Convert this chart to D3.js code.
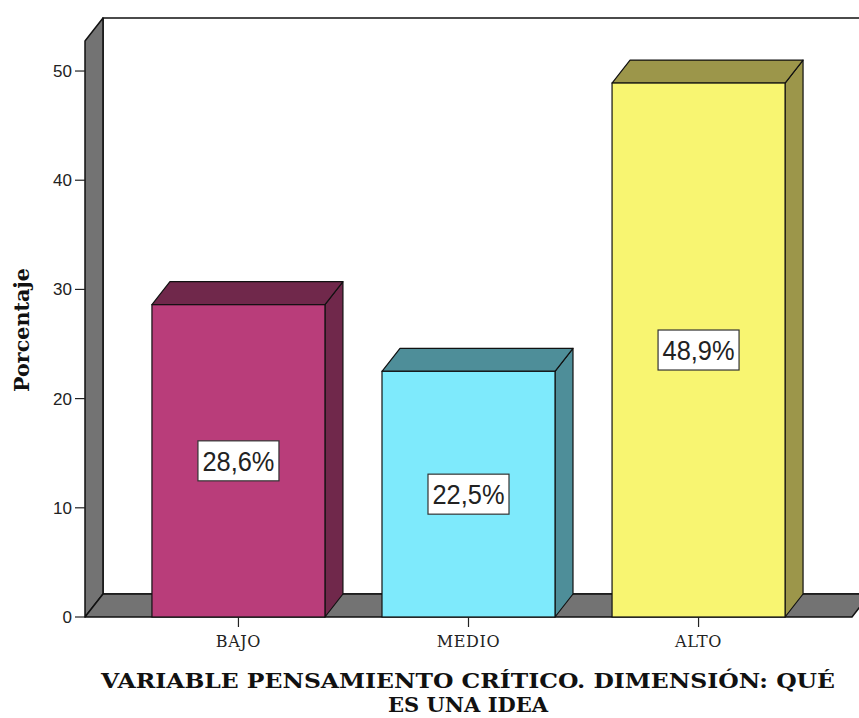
<!DOCTYPE html>
<html>
<head>
<meta charset="utf-8">
<script src="https://cdn.jsdelivr.net/npm/d3@7"></script>
<style>
  body { margin: 0; background: #fff; }
  svg { display: block; }
  .tick-y { font-family: "Liberation Sans", Arial, sans-serif; font-size: 17px; fill: #222; }
  .tick-x { font-family: "DejaVu Serif", serif; font-size: 16px; fill: #222; letter-spacing: 0.6px; }
  .title { font-family: "DejaVu Serif", serif; font-weight: bold; font-size: 20px; fill: #111; }
  .value { font-family: "Liberation Sans", Arial, sans-serif; font-size: 27px; fill: #222; }
</style>
</head>
<body>
<div id="chart"></div>
<script>
var categories = ["BAJO", "MEDIO", "ALTO"];
var values = [28.6, 22.5, 48.9];
var valueLabels = ["28,6%", "22,5%", "48,9%"];
var frontColors = ["#b93d7a", "#7eeafc", "#f8f571"];
var sideColors = ["#70284b", "#4e8e99", "#9c964a"];
var yTicks = [0, 10, 20, 30, 40, 50];

var width = 859, height = 718;
var depth = {dx: 18, dy: 23};

var svg = d3.select("#chart").append("svg")
    .attr("width", width)
    .attr("height", height);

var y = d3.scaleLinear()
    .domain([0, 52.75])
    .range([617, 41]);

var x = d3.scaleBand()
    .domain(categories)
    .range([85, 852])
    .paddingInner(0.248)
    .paddingOuter(0.291);

var x0 = x.range()[0], x1 = x.range()[1];
var yBase = y(0), yTop = y(y.domain()[1]);

function poly(pts) { return "M" + pts.map(function(p) { return p.join(","); }).join("L") + "Z"; }

// back wall
svg.append("path")
    .attr("d", poly([[x0 + depth.dx, yTop - depth.dy], [width + 20, yTop - depth.dy],
                     [width + 20, yBase - depth.dy], [x0 + depth.dx, yBase - depth.dy]]))
    .attr("fill", "#fff")
    .attr("stroke", "#111")
    .attr("stroke-width", 1.5);

// left wall
svg.append("path")
    .attr("d", poly([[x0, yTop], [x0 + depth.dx, yTop - depth.dy],
                     [x0 + depth.dx, yBase - depth.dy], [x0, yBase]]))
    .attr("fill", "#737373")
    .attr("stroke", "#111")
    .attr("stroke-width", 1.5)
    .attr("stroke-linejoin", "round");

// floor
svg.append("path")
    .attr("d", poly([[x0, yBase], [x0 + depth.dx, yBase - depth.dy],
                     [x1 + depth.dx, yBase - depth.dy], [x1, yBase]]))
    .attr("fill", "#737373")
    .attr("stroke", "#111")
    .attr("stroke-width", 1.5)
    .attr("stroke-linejoin", "round");

// bars
var bars = svg.selectAll(".bar")
    .data(categories)
    .enter().append("g")
    .attr("class", "bar");

bars.append("path")
    .attr("d", function(d, i) {
        var bx = x(d) + x.bandwidth(), t = y(values[i]);
        return poly([[bx, t], [bx + depth.dx, t - depth.dy], [bx + depth.dx, yBase - depth.dy], [bx, yBase]]);
    })
    .attr("fill", function(d, i) { return sideColors[i]; })
    .attr("stroke", "#111").attr("stroke-width", 1.2).attr("stroke-linejoin", "round");

bars.append("path")
    .attr("d", function(d, i) {
        var bx = x(d), bw = x.bandwidth(), t = y(values[i]);
        return poly([[bx, t], [bx + depth.dx, t - depth.dy], [bx + bw + depth.dx, t - depth.dy], [bx + bw, t]]);
    })
    .attr("fill", function(d, i) { return sideColors[i]; })
    .attr("stroke", "#111").attr("stroke-width", 1.2).attr("stroke-linejoin", "round");

bars.append("rect")
    .attr("x", function(d) { return x(d); })
    .attr("y", function(d, i) { return y(values[i]); })
    .attr("width", x.bandwidth())
    .attr("height", function(d, i) { return yBase - y(values[i]); })
    .attr("fill", function(d, i) { return frontColors[i]; })
    .attr("stroke", "#111").attr("stroke-width", 1.2);

// value labels
var lab = bars.append("g")
    .attr("transform", function(d, i) {
        return "translate(" + (x(d) + x.bandwidth() / 2) + "," + ((y(values[i]) + yBase) / 2) + ")";
    });
lab.append("rect")
    .attr("x", -40.5).attr("y", -20)
    .attr("width", 81).attr("height", 40)
    .attr("fill", "#fff")
    .attr("stroke", "#333").attr("stroke-width", 1.2);
lab.append("text")
    .attr("class", "value")
    .attr("text-anchor", "middle")
    .attr("y", 10)
    .attr("textLength", 72)
    .attr("lengthAdjust", "spacingAndGlyphs")
    .text(function(d, i) { return valueLabels[i]; });

// y axis ticks
var yt = svg.selectAll(".ytick")
    .data(yTicks)
    .enter().append("g")
    .attr("transform", function(d) { return "translate(" + x0 + "," + y(d) + ")"; });
yt.append("line").attr("x1", -10).attr("x2", 0).attr("stroke", "#222").attr("stroke-width", 1.2);
yt.append("text")
    .attr("class", "tick-y")
    .attr("x", -13).attr("dy", "0.35em")
    .attr("text-anchor", "end")
    .text(function(d) { return d; });

// x axis ticks
var xt = svg.selectAll(".xtick")
    .data(categories)
    .enter().append("g")
    .attr("transform", function(d) { return "translate(" + (x(d) + x.bandwidth() / 2) + "," + yBase + ")"; });
xt.append("line").attr("y1", 0).attr("y2", 10).attr("stroke", "#222").attr("stroke-width", 1.2);
xt.append("text")
    .attr("class", "tick-x")
    .attr("y", 30)
    .attr("text-anchor", "middle")
    .text(function(d) { return d; });

// y title
svg.append("text")
    .attr("class", "title")
    .attr("transform", "translate(29,330) rotate(-90)")
    .attr("text-anchor", "middle")
    .attr("textLength", 124)
    .attr("lengthAdjust", "spacingAndGlyphs")
    .text("Porcentaje");

// x title
svg.append("text")
    .attr("class", "title")
    .attr("x", 468).attr("y", 688)
    .attr("text-anchor", "middle")
    .attr("textLength", 734)
    .attr("lengthAdjust", "spacingAndGlyphs")
    .text("VARIABLE PENSAMIENTO CRÍTICO. DIMENSIÓN: QUÉ");
svg.append("text")
    .attr("class", "title")
    .attr("x", 468).attr("y", 712)
    .attr("text-anchor", "middle")
    .attr("textLength", 160)
    .attr("lengthAdjust", "spacingAndGlyphs")
    .text("ES UNA IDEA");
</script>
</body>
</html>
